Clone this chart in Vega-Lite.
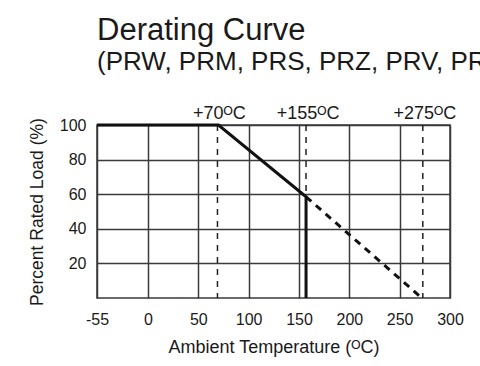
{
  "$schema": "https://vega.github.io/schema/vega-lite/v6.json",
  "width": 353,
  "height": 173,
  "autosize": {"type": "none"},
  "padding": {"left": 97, "top": 125, "right": 30, "bottom": 68},
  "background": "white",
  "title": {
    "text": "Derating Curve",
    "subtitle": "(PRW, PRM, PRS, PRZ, PRV, PRC Series)",
    "anchor": "start",
    "frame": "group",
    "font": "Liberation Sans",
    "subtitleFont": "Liberation Sans",
    "fontSize": 31,
    "subtitleFontSize": 26,
    "fontWeight": "normal",
    "color": "#1a1a1a",
    "subtitleColor": "#1a1a1a",
    "subtitlePadding": 2,
    "offset": 29
  },
  "config": {
    "view": {"stroke": "#3a3a3a", "strokeWidth": 1.5},
    "font": "Liberation Sans"
  },
  "datasets": {
    "rated": [
      {"temp": -55, "load": 100, "ord": 1},
      {"temp": 70, "load": 100, "ord": 2},
      {"temp": 157, "load": 58.5, "ord": 3},
      {"temp": 157, "load": 0, "ord": 4}
    ],
    "extended": [
      {"temp": 157, "load": 58.5, "ord": 1},
      {"temp": 272, "load": 0, "ord": 2}
    ],
    "limits": [
      {"temp": 69, "label": "+70ᴼC"},
      {"temp": 157, "label": "+155ᴼC"},
      {"temp": 273, "label": "+275ᴼC"}
    ]
  },
  "layer": [
    {
      "data": {"name": "limits"},
      "mark": {"type": "rule", "strokeDash": [6, 6], "strokeWidth": 1.5, "color": "#222"},
      "encoding": {
        "x": {
          "field": "temp",
          "type": "quantitative",
          "scale": {"domain": [-55, 0, 300], "range": [0, 51, 353], "nice": false, "zero": false},
          "axis": {
            "values": [-55, 0, 50, 100, 150, 200, 250, 300],
            "labelExpr": "'' + datum.value",
            "grid": true,
            "gridColor": "#3a3a3a",
            "gridWidth": 1.5,
            "gridOpacity": 1,
            "domain": false,
            "ticks": false,
            "labelFontSize": 16,
            "labelColor": "#1a1a1a",
            "labelPadding": 13,
            "labelFlush": false,
            "title": "Ambient Temperature (ᴼC)",
            "titleFontSize": 18,
            "titleFontWeight": "normal",
            "titleColor": "#1a1a1a",
            "titlePadding": 11
          }
        },
        "y": {"datum": 100, "type": "quantitative"},
        "y2": {"datum": 0}
      }
    },
    {
      "data": {"name": "rated"},
      "mark": {"type": "line", "color": "#111", "strokeWidth": 3, "strokeCap": "butt", "strokeJoin": "miter"},
      "encoding": {
        "x": {"field": "temp", "type": "quantitative"},
        "y": {
          "field": "load",
          "type": "quantitative",
          "scale": {"domain": [0, 100], "nice": false},
          "axis": {
            "values": [20, 40, 60, 80, 100],
            "grid": true,
            "gridColor": "#3a3a3a",
            "gridWidth": 1.5,
            "gridOpacity": 1,
            "domain": false,
            "ticks": false,
            "labelFontSize": 16,
            "labelColor": "#1a1a1a",
            "labelPadding": 11,
            "title": "Percent Rated Load (%)",
            "titleFontSize": 17.5,
            "titleFontWeight": "normal",
            "titleColor": "#1a1a1a",
            "titlePadding": 13
          }
        },
        "order": {"field": "ord"}
      }
    },
    {
      "data": {"name": "extended"},
      "mark": {"type": "line", "color": "#111", "strokeWidth": 3, "strokeDash": [7, 6], "strokeCap": "butt"},
      "encoding": {
        "x": {"field": "temp", "type": "quantitative"},
        "y": {"field": "load", "type": "quantitative"},
        "order": {"field": "ord"}
      }
    },
    {
      "data": {"name": "limits"},
      "mark": {"type": "text", "fontSize": 18, "color": "#1a1a1a", "baseline": "alphabetic", "dy": -6, "dx": 2},
      "encoding": {
        "x": {"field": "temp", "type": "quantitative"},
        "y": {"datum": 100, "type": "quantitative"},
        "text": {"field": "label"}
      }
    }
  ]
}
